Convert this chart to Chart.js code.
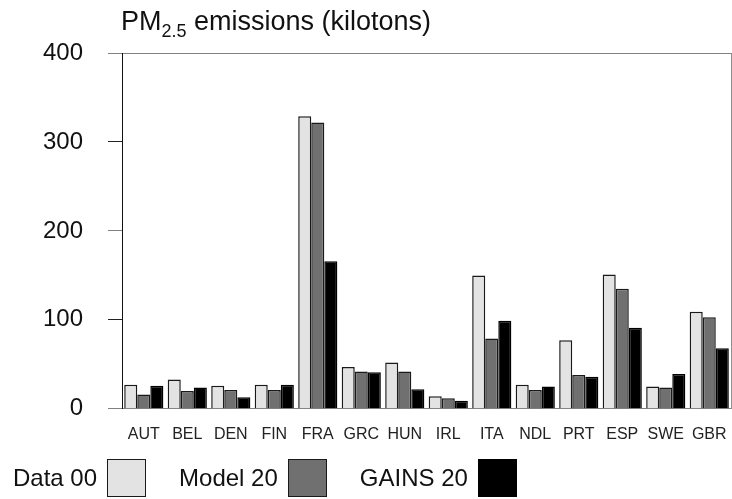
<!DOCTYPE html>
<html>
<head>
<meta charset="utf-8">
<script src="https://cdn.jsdelivr.net/npm/chart.js@4.4.0/dist/chart.umd.min.js"></script>
<style>
  html, body { margin: 0; padding: 0; background: #fff; }
  #wrap { position: relative; width: 732px; height: 499px; overflow: hidden; font-family: "Liberation Sans", Arial, sans-serif; }
  #c { position: absolute; left: 0; top: 0; }
  #title { position: absolute; left: 121px; top: 8px; font-size: 27px; line-height: 27px; color: #111; white-space: nowrap; }
  #title sub { font-size: 18px; line-height: 0; vertical-align: -7px; }
  #legend { position: absolute; left: 13px; top: 459px; height: 38px; display: flex; align-items: center; font-size: 24px; color: #111; }
  .item { display: flex; align-items: center; margin-right: 33px; }
  .box { width: 37px; height: 36px; margin-left: 10px; border: 1px solid #1a1a1a; }
</style>
</head>
<body>
<div id="wrap">
  <canvas id="c" width="732" height="499"></canvas>
  <div id="title">PM<sub>2.5</sub> emissions (kilotons)</div>
  <div id="legend"></div>
</div>
<script>
const categories = ["AUT", "BEL", "DEN", "FIN", "FRA", "GRC", "HUN", "IRL", "ITA", "NDL", "PRT", "ESP", "SWE", "GBR"];
const seriesNames = ["Data 00", "Model 20", "GAINS 20"];
const data00 =   [27, 33, 26, 27, 329, 47, 52, 14, 150, 27, 77, 151, 25, 109];
const model20 =  [16, 20, 21, 21, 322, 42, 42, 12,  79, 21, 38, 135, 24, 103];
const gains20 =  [26, 24, 13, 27, 166, 41, 22,  9,  99, 25, 36,  91, 39,  68];
const yTicks = [0, 100, 200, 300, 400];

const fills = ["#e3e3e3", "#707070", "#000000"];
const borders = ["#1a1a1a", "#1a1a1a", "#000000"];
const seriesValues = [data00, model20, gains20];

const datasets = seriesNames.map((name, i) => ({
  label: name,
  data: seriesValues[i],
  backgroundColor: fills[i],
  borderColor: borders[i],
  borderWidth: 1.5,
  borderSkipped: 'start',
  categoryPercentage: 0.9,
  barPercentage: 1.0
}));

// HTML legend (text then swatch)
const legendEl = document.getElementById('legend');
seriesNames.forEach((name, i) => {
  const item = document.createElement('div');
  item.className = 'item';
  const t = document.createElement('span');
  t.textContent = name;
  const b = document.createElement('div');
  b.className = 'box';
  b.style.background = fills[i];
  b.style.borderColor = borders[i];
  item.appendChild(t);
  item.appendChild(b);
  legendEl.appendChild(item);
});

const FONT = "'Liberation Sans', Arial, sans-serif";

new Chart(document.getElementById('c'), {
  type: 'bar',
  data: { labels: categories, datasets },
  options: {
    responsive: false,
    animation: false,
    devicePixelRatio: 1,
    layout: { padding: { top: 53, left: 18, right: 1, bottom: 55 } },
    plugins: { legend: { display: false }, title: { display: false }, tooltip: { enabled: false } },
    scales: {
      x: {
        grid: { display: true, drawOnChartArea: false, drawTicks: true, tickLength: 16, color: 'rgba(0,0,0,0)', tickColor: 'rgba(0,0,0,0)' },
        border: { display: false },
        ticks: { padding: 0, color: '#222', font: { family: FONT, size: 16 }, maxRotation: 0, autoSkip: false }
      },
      y: {
        min: 0,
        max: 400,
        afterBuildTicks: (axis) => { axis.ticks = yTicks.map(v => ({ value: v })); },
        grid: {
          drawTicks: true,
          tickLength: 14,
          lineWidth: 1,
          color: (ctx) => (ctx.tick && (ctx.tick.value === 0 || ctx.tick.value === 400)) ? '#808080' : 'rgba(0,0,0,0)',
          tickColor: (ctx) => (ctx.tick && (ctx.tick.value % 200 === 0)) ? '#808080' : '#222'
        },
        border: { display: true, color: '#111', width: 1 },
        ticks: { padding: 25, color: '#111', font: { family: FONT, size: 24 } }
      },
      yRight: {
        type: 'linear',
        position: 'right',
        min: 0,
        max: 400,
        afterFit: (axis) => { axis.width = 0; },
        grid: { display: false, drawTicks: false },
        ticks: { display: false },
        border: { display: true, color: '#909090', width: 1 }
      }
    }
  }
});
</script>
</body>
</html>
